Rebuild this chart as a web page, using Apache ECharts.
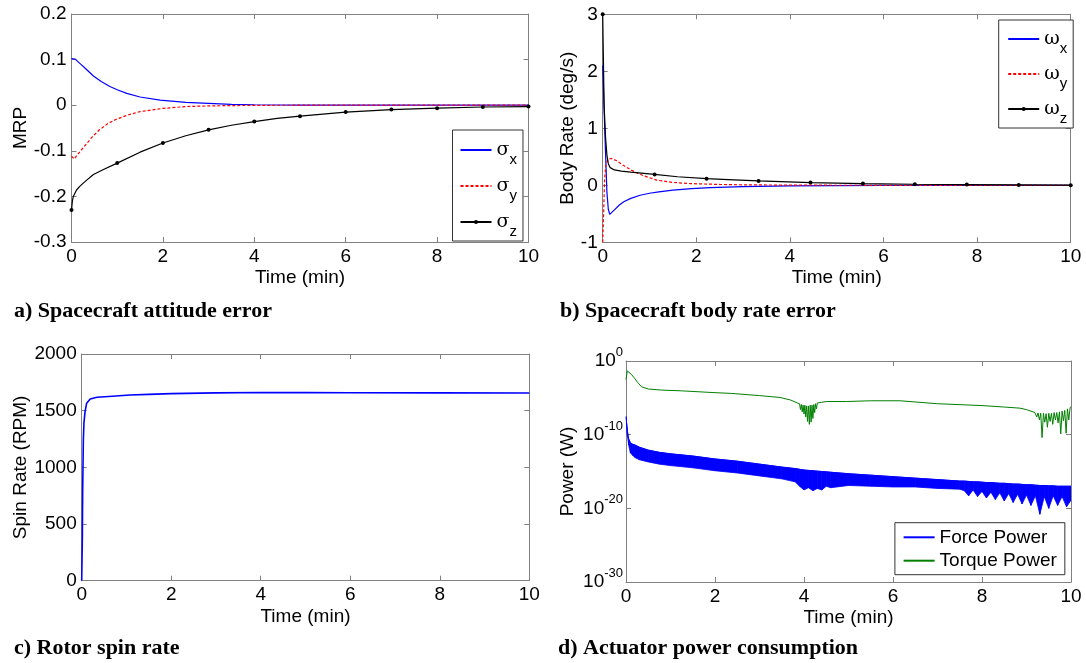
<!DOCTYPE html>
<html>
<head>
<meta charset="UTF-8" />
<title>Spacecraft simulation results</title>
<script src="https://cdn.jsdelivr.net/npm/echarts@6/dist/echarts.min.js"></script>
<style>
  html, body { margin: 0; padding: 0; background: #fff; }
  #chart { width: 1086px; height: 663px; }
</style>
</head>
<body>
<div id="chart"></div>
<script>
  // a) attitude error (MRP) vs time in min
  const sigmaX = [[0,0.102],[0.08,0.101],[0.12,0.097],[0.2,0.09],[0.3,0.081],[0.48,0.064],[0.65,0.052],[0.84,0.041],[1,0.034],[1.21,0.026],[1.5,0.018],[1.94,0.011],[2.5,0.006],[3,0.004],[3.5,0.002],[4,0.001],[5,0.0003],[6,0],[10,0]];
  const sigmaY = [[0,-0.112],[0.06,-0.118],[0.15,-0.106],[0.3,-0.088],[0.45,-0.07],[0.6,-0.055],[0.8,-0.04],[1,-0.03],[1.25,-0.021],[1.5,-0.014],[2,-0.007],[2.5,-0.003],[3,-0.0015],[4,-0.0003],[5,0],[10,0]];
  // third value = 1 where a marker is drawn
  const sigmaZ = [[0,-0.23,1],[0.02,-0.21],[0.04,-0.2],[0.11,-0.186],[0.18,-0.178],[0.3,-0.167],[0.48,-0.152],[0.7,-0.141],[1,-0.127,1],[1.5,-0.103],[2,-0.083,1],[2.5,-0.067],[3,-0.054,1],[3.5,-0.044],[4,-0.036,1],[4.5,-0.029],[5,-0.024,1],[6,-0.015,1],[7,-0.0095,1],[8,-0.0065,1],[9,-0.004,1],[10,-0.003,1]];

  // b) body rate error (deg/s)
  const omegaX = [[0,2.1],[0.02,1.6],[0.05,0.82],[0.09,-0.12],[0.12,-0.42],[0.15,-0.51],[0.19,-0.49],[0.25,-0.43],[0.35,-0.35],[0.45,-0.29],[0.6,-0.23],[0.8,-0.175],[1,-0.14],[1.2,-0.115],[1.5,-0.085],[1.9,-0.06],[2.3,-0.04],[3,-0.022],[4,-0.01],[5,-0.004],[6,-0.002],[8,0],[10,0]];
  const omegaY = [[0,-1],[0.02,-0.5],[0.04,0.1],[0.07,0.38],[0.12,0.46],[0.19,0.47],[0.3,0.43],[0.44,0.35],[0.6,0.27],[0.75,0.21],[0.9,0.16],[1.16,0.09],[1.5,0.05],[1.87,0.03],[2.5,0.015],[3,0.008],[4,0.003],[5,0.001],[6,0],[10,0]];
  const omegaZ = [[0,3,1],[0.015,2.2],[0.03,1.4],[0.06,0.85],[0.09,0.53],[0.12,0.38],[0.16,0.31],[0.25,0.27],[0.4,0.25],[0.6,0.23],[0.88,0.21],[1.11,0.19,1],[1.6,0.15],[2.22,0.117,1],[2.8,0.095],[3.33,0.076,1],[4.44,0.047,1],[5.56,0.03,1],[6.67,0.018,1],[7.78,0.012,1],[8.89,0.006,1],[10,0.003,1]];

  // c) rotor spin rate (RPM)
  const spinRate = [[0,0],[0.014,360],[0.022,800],[0.037,1240],[0.05,1390],[0.074,1490],[0.11,1565],[0.19,1603],[0.34,1618],[0.6,1625],[1.08,1638],[1.5,1644],[2,1650],[3,1657],[4,1660],[5,1659],[6,1658],[8,1657],[10,1656]];

  // d) actuator power, stored as log10(W); the y axis runs in decades
  const torqueExp = [[0,-2.5],[0.03,-1.35],[0.06,-1.4],[0.12,-1.8],[0.2,-2.4],[0.26,-2.9],[0.35,-3.5],[0.5,-3.8],[0.8,-3.95],[1.25,-4.05],[2,-4.3],[2.37,-4.4],[3,-4.7],[3.46,-4.95],[3.7,-5.3],[3.85,-5.7],
    [3.9,-5.8],[3.92,-6.6],[3.94,-5.9],[3.96,-6.9],[3.98,-6.0],[4.0,-7.2],[4.02,-6.0],[4.04,-7.6],[4.06,-6.1],[4.08,-8.2],[4.1,-6.1],[4.12,-8.6],[4.14,-6.0],[4.16,-8.3],[4.18,-6.0],[4.2,-7.8],[4.22,-5.9],[4.24,-7.0],[4.26,-5.8],[4.28,-6.5],[4.3,-5.7],
    [4.4,-5.6],[4.5,-5.5],[4.96,-5.5],[5.5,-5.4],[6.16,-5.4],[7,-5.8],[8,-6.05],[8.5,-6.25],[8.85,-6.4],[9,-6.6],[9.19,-7.0],
    [9.2,-7.0],[9.23,-7.6],[9.26,-7.05],[9.29,-8.0],[9.32,-7.1],[9.35,-10.4],[9.38,-7.1],[9.41,-8.3],[9.44,-7.15],[9.47,-9.0],[9.5,-7.1],[9.53,-8.2],[9.56,-7.1],[9.59,-8.6],[9.62,-7.0],[9.65,-8.0],[9.68,-7.0],[9.71,-8.4],[9.74,-6.9],[9.77,-9.9],[9.8,-6.8],[9.83,-8.1],[9.86,-6.7],[9.89,-9.8],[9.92,-6.5],[9.95,-8.0],[9.98,-6.3],[10,-6.2]];
  const forceT = [0,0.03,0.06,0.1,0.15,0.2,0.3,0.5,0.75,1,1.5,2,2.5,3,3.5,3.8,3.9,4.0,4.1,4.2,4.3,4.4,4.5,4.6,5,5.5,6,6.5,7,7.5,7.6,7.7,7.8,7.9,8.0,8.1,8.2,8.3,8.4,8.5,8.6,8.7,8.8,8.9,9.0,9.1,9.2,9.3,9.4,9.5,9.6,9.7,9.8,9.9,10];
  const forceUpperExp = [-7.55,-9.5,-10.6,-11.1,-11.3,-11.4,-11.7,-12.1,-12.4,-12.6,-12.9,-13.3,-13.6,-14.0,-14.4,-14.6,-14.7,-14.8,-14.85,-14.9,-14.95,-15.0,-15.05,-15.1,-15.3,-15.5,-15.7,-15.9,-16.1,-16.3,-16.3,-16.35,-16.4,-16.4,-16.45,-16.5,-16.5,-16.55,-16.6,-16.6,-16.65,-16.7,-16.7,-16.75,-16.8,-16.8,-16.85,-16.9,-16.9,-16.95,-16.95,-17.0,-17.0,-17.0,-17.0];
  const forceLowerExp = [-7.65,-10.0,-11.4,-12.5,-12.8,-13.1,-13.4,-13.7,-14.0,-14.2,-14.5,-14.9,-15.2,-15.6,-16.0,-16.4,-17.0,-17.5,-17.2,-17.6,-17.3,-17.5,-17.0,-17.2,-16.9,-17.0,-17.1,-17.1,-17.3,-17.4,-17.6,-18.3,-17.5,-18.4,-17.7,-18.6,-17.8,-18.8,-17.9,-19.0,-18.0,-19.2,-18.1,-19.4,-18.2,-19.6,-18.3,-20.8,-18.4,-20.0,-18.3,-19.6,-18.4,-19.8,-18.9];

  const captions = ['a) Spacecraft attitude error', 'b) Spacecraft body rate error', 'c) Rotor spin rate', 'd) Actuator power consumption'];
  const yNames = ['MRP', 'Body Rate (deg/s)', 'Spin Rate (RPM)', 'Power (W)'];

  const FONT = '"Liberation Sans", Arial, sans-serif';
  const GRAY = '#808080';

  const grids = [
    { left: 71.5, top: 14, width: 457, height: 228 },
    { left: 602.7, top: 14.3, width: 468, height: 228 },
    { left: 81.7, top: 354, width: 447.6, height: 226.7 },
    { left: 626, top: 361, width: 445, height: 221 }
  ].map(g => Object.assign({ outerBoundsMode: 'none', containLabel: false }, g));

  function lineBits(showLabel) {
    return {
      axisLine: { onZero: false, lineStyle: { color: GRAY, width: 1 } },
      axisTick: { inside: true, length: 5, lineStyle: { color: GRAY } },
      axisLabel: { show: showLabel, fontSize: 19, color: '#000', fontFamily: FONT, margin: 5, formatter: v => String(v) },
      splitLine: { show: false }
    };
  }

  const xAxis = [], yAxis = [];
  const xNameGap = [26, 26, 27, 26];
  grids.forEach((g, i) => {
    xAxis.push(Object.assign({
      gridIndex: i, type: 'value', min: 0, max: 10, interval: 2, position: 'bottom',
      name: 'Time (min)', nameLocation: 'middle', nameGap: xNameGap[i],
      nameTextStyle: { fontSize: 19, color: '#000', fontFamily: FONT }
    }, lineBits(true)));
    xAxis.push(Object.assign({
      gridIndex: i, type: 'value', min: 0, max: 10, interval: 2, position: 'top'
    }, lineBits(false)));
  });

  const yRanges = [
    { type: 'value', min: -0.3, max: 0.2, interval: 0.1 },
    { type: 'value', min: -1, max: 3, interval: 1 },
    { type: 'value', min: 0, max: 2000, interval: 500 },
    { type: 'value', min: -30, max: 0, interval: 10 }
  ];
  const yNameGap = [41, 25, 51, 49];
  yRanges.forEach((r, i) => {
    const left = Object.assign({
      gridIndex: i, position: 'left', name: yNames[i], nameLocation: 'middle', nameGap: yNameGap[i],
      nameTextStyle: { fontSize: 19, color: '#000', fontFamily: FONT }
    }, r, lineBits(true));
    if (i === 3) {
      // decades shown as powers of ten
      left.axisLabel.formatter = v => '{b|10}{p|' + v + '}';
      left.axisLabel.rich = {
        b: { fontSize: 19, lineHeight: 20, fontFamily: FONT, color: '#000' },
        p: { fontSize: 13, lineHeight: 13, fontFamily: FONT, color: '#000', padding: [0, 0, 17, 0] }
      };
      left.axisLabel.margin = 3;
    }
    yAxis.push(left);
    yAxis.push(Object.assign({ gridIndex: i, position: 'right' }, r, lineBits(false)));
  });

  function plain(pts) { return pts.map(p => [p[0], p[1]]); }
  function marked(pts) {
    return pts.map(p => ({ value: [p[0], p[1]], symbol: p[2] ? 'circle' : 'none' }));
  }

  function line(name, grid, data, color, extra) {
    return Object.assign({
      name: name, type: 'line', xAxisIndex: grid * 2, yAxisIndex: grid * 2,
      data: data, symbol: 'none', showSymbol: true, animation: false,
      lineStyle: { color: color, width: 1.2 }, itemStyle: { color: color }
    }, extra || {});
  }

  // force power band: one quad per time step, upper and lower envelope
  const bandData = forceT.slice(0, -1).map((t, i) =>
    [t, forceUpperExp[i], forceLowerExp[i], forceT[i + 1], forceUpperExp[i + 1], forceLowerExp[i + 1]]);

  function renderBand(params, api) {
    const a = api.coord([api.value(0), api.value(1)]);
    const b = api.coord([api.value(3), api.value(4)]);
    const c = api.coord([api.value(3), api.value(5)]);
    const d = api.coord([api.value(0), api.value(2)]);
    return {
      type: 'polygon',
      shape: { points: [a, b, c, d] },
      style: { fill: '#0000ff', stroke: '#0000ff', lineWidth: 0.8 }
    };
  }

  const series = [
    line('σx', 0, plain(sigmaX), '#0000ff'),
    line('σy', 0, plain(sigmaY), '#ff0000', { lineStyle: { color: '#ff0000', width: 1.2, type: [3, 2] } }),
    line('σz', 0, marked(sigmaZ), '#000000', { symbol: 'circle', symbolSize: 4 }),
    line('ωx', 1, plain(omegaX), '#0000ff'),
    line('ωy', 1, plain(omegaY), '#ff0000', { lineStyle: { color: '#ff0000', width: 1.2, type: [3, 2] } }),
    line('ωz', 1, marked(omegaZ), '#000000', { symbol: 'circle', symbolSize: 4 }),
    line('Spin Rate', 2, plain(spinRate), '#0000ff', { lineStyle: { color: '#0000ff', width: 1.6 } }),
    {
      name: 'fpBand', type: 'custom', xAxisIndex: 6, yAxisIndex: 6, animation: false,
      data: bandData, encode: { x: [0, 3], y: [1, 2, 4, 5] }, renderItem: renderBand, clip: true
    },
    line('Force Power', 3, forceT.map((t, i) => [t, forceUpperExp[i]]), '#0000ff', { lineStyle: { color: '#0000ff', width: 1 } }),
    line('Torque Power', 3, plain(torqueExp), '#008000', { lineStyle: { color: '#008000', width: 1 } })
  ];

  const subRich = {
    g: { fontSize: 19, lineHeight: 32, fontFamily: 'DejaVu Serif, serif', color: '#000' },
    s: { fontSize: 15, lineHeight: 13, fontFamily: FONT, color: '#000', padding: [19, 0, 0, 0] }
  };
  const noDot = { opacity: 0 };
  function subLegend(names, left, top, padding, gap) {
    return {
      data: [
        { name: names[0], itemStyle: noDot },
        { name: names[1], itemStyle: noDot },
        { name: names[2] }
      ],
      orient: 'vertical', left: left, top: top, padding: padding, itemGap: gap,
      itemWidth: 31, itemHeight: 5, selectedMode: false,
      backgroundColor: '#fff', borderColor: '#333', borderWidth: 1,
      formatter: n => '{g|' + n[0] + '}{s|' + n.slice(1) + '}',
      textStyle: { rich: subRich }
    };
  }
  const legend = [
    subLegend(['σx', 'σy', 'σz'], 452.5, 130, [3, 6, 2, 7], 2),
    subLegend(['ωx', 'ωy', 'ωz'], 998.7, 20, [2, 6, 2, 8.5], 1),
    {
      data: [{ name: 'Force Power', itemStyle: noDot }, { name: 'Torque Power', itemStyle: noDot }],
      orient: 'vertical', left: 894.9, top: 522.7,
      padding: [3.6, 8, 3, 7.7], itemGap: 1.4, itemWidth: 31, itemHeight: 5, selectedMode: false,
      backgroundColor: '#fff', borderColor: '#333', borderWidth: 1,
      textStyle: { fontSize: 19, lineHeight: 22, color: '#000', fontFamily: FONT }
    }
  ];

  const capPos = [[14, 300], [560, 300], [14, 637], [558, 637]];
  const title = captions.map((c, i) => ({
    text: c, left: capPos[i][0], top: capPos[i][1], padding: 0,
    textStyle: { fontFamily: '"Liberation Serif", "Times New Roman", serif', fontWeight: 'bold', fontSize: 22, color: '#000' }
  }));

  const chart = echarts.init(document.getElementById('chart'));
  chart.setOption({
    animation: false,
    backgroundColor: '#fff',
    title: title,
    legend: legend,
    grid: grids,
    xAxis: xAxis,
    yAxis: yAxis,
    series: series
  });
</script>
</body>
</html>
